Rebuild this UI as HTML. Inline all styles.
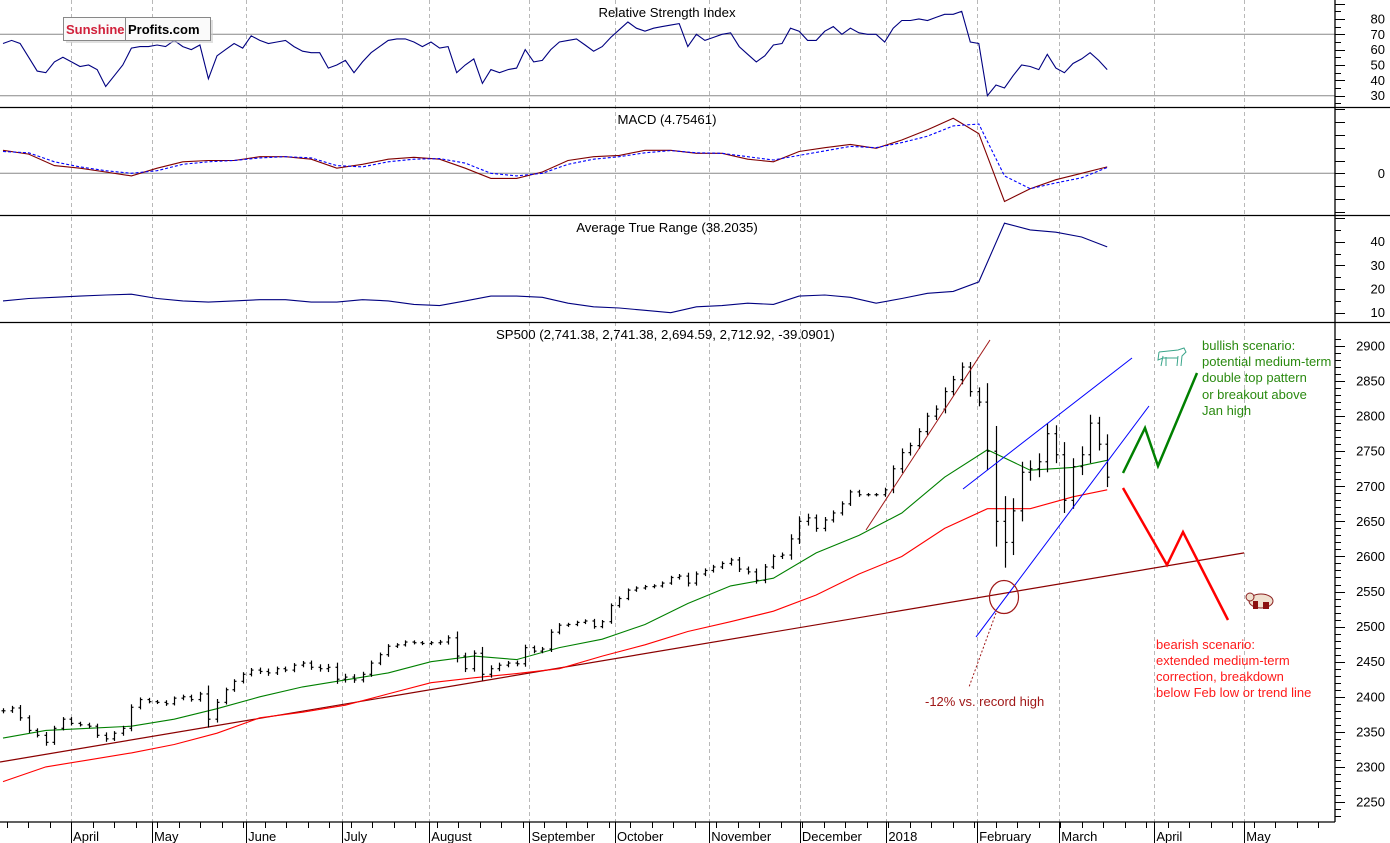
<!DOCTYPE html>
<html><head><meta charset="utf-8">
<style>
html,body{margin:0;padding:0;background:#fff;}
svg{display:block;font-family:"Liberation Sans",Arial,sans-serif;}
</style></head>
<body>
<svg id="chart" width="1390" height="843" viewBox="0 0 1390 843" xmlns="http://www.w3.org/2000/svg">
  <rect x="0" y="0" width="1390" height="843" fill="#fff"/>
  <g id="grid"></g>
  <g id="panels">
    <line x1="0" y1="34.3" x2="1335" y2="34.3" stroke="#888" stroke-width="1"/>
    <line x1="0" y1="95.7" x2="1335" y2="95.7" stroke="#888" stroke-width="1"/>
    <line x1="0" y1="173.3" x2="1335" y2="173.3" stroke="#888" stroke-width="1"/>
    <line x1="0" y1="107.5" x2="1390" y2="107.5" stroke="#000" stroke-width="1.3"/>
    <line x1="0" y1="215.5" x2="1390" y2="215.5" stroke="#000" stroke-width="1.3"/>
    <line x1="0" y1="322.5" x2="1390" y2="322.5" stroke="#000" stroke-width="1.3"/>
    <line x1="0" y1="822" x2="1335" y2="822" stroke="#000" stroke-width="1.3"/>
    <line x1="1335" y1="0" x2="1335" y2="822" stroke="#000" stroke-width="1.3"/>
  </g>
  <text x="667" y="17" font-size="13.2" text-anchor="middle">Relative Strength Index</text>
  <text x="667" y="124" font-size="13.2" text-anchor="middle">MACD (4.75461)</text>
  <text x="667" y="232" font-size="13.2" text-anchor="middle">Average True Range (38.2035)</text>
  <text x="496" y="339" font-size="13.2">SP500 (2,741.38, 2,741.38, 2,694.59, 2,712.92, -39.0901)</text>

  <g id="rsi"></g>
  <g id="macd"></g>
  <g id="atr"></g>
  <g id="price"></g>
  <g id="axes"></g>

  <g>
    <line x1="866" y1="530" x2="990" y2="340" stroke="#a01818" stroke-width="1"/>
    <line x1="963" y1="489" x2="1132" y2="358" stroke="#0000ff" stroke-width="1"/>
    <line x1="976" y1="637" x2="1149" y2="406" stroke="#0000ff" stroke-width="1"/>
    <ellipse cx="1004" cy="597" rx="14.5" ry="16.5" fill="none" stroke="#a01818" stroke-width="1.2"/>
    <line x1="996" y1="613" x2="969" y2="687" stroke="#a01818" stroke-width="1" stroke-dasharray="2,2"/>
    <text x="925" y="706" font-size="13" fill="#a01818">-12% vs. record high</text>
    <polyline points="1123,473 1145,428 1158,466 1197,373" fill="none" stroke="#008000" stroke-width="2.5"/>
    <polyline points="1123,488 1167,565 1183,532 1228,620" fill="none" stroke="#ff0000" stroke-width="2.5"/>
    <g font-size="13" fill="#2a8a10">
      <text x="1202" y="350">bullish scenario:</text>
      <text x="1202" y="366">potential medium-term</text>
      <text x="1202" y="382">double top pattern</text>
      <text x="1202" y="399">or breakout above</text>
      <text x="1202" y="415">Jan high</text>
    </g>
    <g font-size="13" fill="#ff1a1a">
      <text x="1156" y="649">bearish scenario:</text>
      <text x="1156" y="665">extended medium-term</text>
      <text x="1156" y="681">correction, breakdown</text>
      <text x="1156" y="697">below Feb low or trend line</text>
    </g>
    <g fill="none" stroke="#3aa58a" stroke-width="1">
      <path d="M1159,352 L1178,350 L1184,348 L1186,352 L1182,356 L1181,366 M1178,356 L1177,366 M1163,356 L1161,366 M1166,357 L1166,366 M1159,352 L1158,360 L1163,358 L1178,358"/>
    </g>
    <g>
      <ellipse cx="1261" cy="601" rx="12" ry="7" fill="#f0e0d0" stroke="#8b2020"/>
      <circle cx="1250" cy="597" r="4" fill="#f0e0d0" stroke="#8b2020"/>
      <rect x="1253" y="601" width="5" height="8" fill="#8b1010"/>
      <rect x="1263" y="602" width="6" height="7" fill="#8b1010"/>
    </g>
  </g>

  <g>
    <rect x="66" y="20" width="147" height="23" fill="#ccc" opacity="0.6"/>
    <rect x="63.5" y="17.5" width="147" height="23" fill="#fafafa" stroke="#888"/>
    <line x1="125.5" y1="18" x2="125.5" y2="40" stroke="#888"/>
    <text x="66" y="34" font-size="13" font-weight="bold" fill="#d0203a">Sunshine</text>
    <text x="128" y="34" font-size="13" font-weight="bold" fill="#000">Profits.com</text>
  </g>
</svg>
<script>
// ---- data ----
const priceCloses = [2380,2384,2370,2352,2345,2335,2355,2368,2362,2360,2358,2345,2340,2348,2355,2385,2396,2393,2392,2390,2398,2400,2396,2404,2368,2392,2410,2422,2432,2438,2436,2434,2440,2438,2445,2448,2442,2440,2442,2425,2428,2424,2432,2448,2460,2472,2474,2478,2477,2476,2477,2478,2484,2458,2440,2462,2432,2440,2445,2448,2447,2470,2465,2468,2492,2502,2503,2506,2508,2500,2507,2530,2540,2552,2555,2557,2558,2562,2570,2572,2562,2575,2580,2585,2590,2595,2582,2578,2566,2585,2600,2602,2625,2650,2655,2640,2652,2662,2675,2692,2688,2688,2688,2695,2725,2748,2758,2778,2800,2810,2835,2852,2870,2835,2820,2750,2650,2620,2665,2720,2725,2735,2775,2745,2680,2728,2745,2790,2760,2713];
const priceRanges = [12,10,14,12,10,16,12,10,10,8,10,12,14,10,12,14,10,8,8,10,8,10,10,10,40,16,10,10,10,10,12,14,10,10,10,10,12,14,16,22,16,14,12,12,10,10,8,8,8,8,8,10,12,30,16,14,30,16,12,10,12,14,10,10,14,10,8,8,8,10,8,10,10,8,8,8,8,8,8,10,16,12,10,10,10,10,14,12,16,14,10,12,22,24,20,16,14,12,12,10,10,8,8,10,16,20,14,16,16,18,20,18,22,24,20,90,120,120,60,50,40,40,50,40,60,40,40,40,30,47];
const maIdx = [0,5,10,15,20,25,30,35,40,45,50,55,60,65,70,75,80,85,90,95,100,105,110,115,120,125,129];
const ma50 = [2341,2352,2355,2358,2368,2383,2400,2414,2424,2434,2450,2458,2453,2470,2482,2503,2533,2558,2569,2605,2630,2662,2713,2752,2723,2727,2737];
const ma100 = [2279,2300,2310,2320,2332,2348,2370,2378,2388,2404,2420,2427,2433,2440,2458,2474,2493,2507,2522,2545,2575,2600,2640,2668,2668,2685,2695];
const trendIdx = [-0.35,145];
const trendVals = [2307,2605];
const rsiVals = [64,66,64,55,46,45,52,55,52,49,50,47,36,43,50,61,62,62,63,62,66,62,60,63,41,56,60,64,61,69,66,64,65,66,62,59,58,58,48,50,53,45,52,58,62,66,67,67,65,62,65,61,62,45,50,54,38,47,45,47,48,60,52,53,60,65,66,67,63,59,62,68,73,78,74,72,74,75,76,77,62,70,66,68,70,71,62,57,52,56,63,64,74,72,66,66,72,75,70,74,71,70,70,65,74,79,79,80,79,81,83,83,85,65,64,30,37,35,43,50,49,47,57,48,45,51,54,58,53,47];
const macdIdx = [0,3,6,9,12,15,18,21,24,27,30,33,36,39,42,45,48,51,54,57,60,63,66,69,72,75,78,81,84,87,90,93,96,99,102,105,108,111,114,117,120,123,126,129];
const macdVals = [18,15,6,4,1,-2,4,9,10,10,13,13,11,4,7,11,12.5,11,4,-4,-4,1,10,13,14,18,18,15.6,15.6,11,9,17,20,22.6,19.5,26,34,43,31,-22,-12,-5,0,5];
const signalVals = [17,16,9,5,2,0,2,7,9,10,12,13,12,6,5,9,11,11.5,8,0,-2,0,7,11,13,16,17.7,16,15.6,13,10.4,14,17.5,21,20,24,29,37,38.5,-2,-12,-7.5,-3.5,4.5];
const atrVals = [15,16,16.5,17,17.5,17.8,16,15,14.5,15,15.5,15.5,14.5,14.5,15.5,15,13.5,13,15,17,17,16.5,14,12.5,12,11,10,12.5,13,14,13.5,17,17.5,16.5,14,16,18.2,19,23,47.8,45,44,42,37.8];
const monthLabels = ["March","April","May","June","July","August","September","October","November","December","2018","February","March","April","May"];
const monthIdxPos = [-8.3,7.95,17.4,28.4,39.6,49.8,61.5,71.5,82.5,93.1,103.2,113.8,123.4,134.5,145];
const priceTicks = [2900,2850,2800,2750,2700,2650,2600,2550,2500,2450,2400,2350,2300,2250];
const rsiTicks = [80,70,60,50,40,30];
const atrTicks = [40,30,20,10];
const macdTicks = [0];

// ---- scales ----
const xS = i => 3 + i*8.56;
const yP = v => 346 + (2900 - v)*0.7015;
const yR = v => 34.3 + (70 - v)*1.535;
const yM = v => 173.3 - v*1.28;
const yA = v => 241.7 + (40 - v)*2.367;
const NS = "http://www.w3.org/2000/svg";
function mk(tag, attrs, parent){ const e=document.createElementNS(NS,tag); for(const k in attrs) e.setAttribute(k,attrs[k]); parent.appendChild(e); return e; }
function poly(xs, ys, parent, stroke, w, dash){ const pts = xs.map((x,k)=>x.toFixed(1)+","+ys[k].toFixed(1)).join(" "); const p=mk("polyline",{points:pts,fill:"none",stroke:stroke,"stroke-width":w},parent); if(dash) p.setAttribute("stroke-dasharray",dash); return p; }

// grid
const grid = document.getElementById("grid");
monthIdxPos.forEach((m,k)=>{ if(k===0) return; const x = Math.round(xS(m))+0.5;
  const l = mk("line",{x1:x,y1:0,x2:x,y2:822,stroke:"#b8b8b8","stroke-width":1,"stroke-dasharray":"4,3"},grid);
  
  
});

// RSI
const rsiG = document.getElementById("rsi");
const rl = poly(rsiVals.map((v,i)=>xS(i)), rsiVals.map(yR), rsiG, "#000080", 1.1);



// MACD
const macdG = document.getElementById("macd");
const ml = poly(macdIdx.map(xS), macdVals.map(yM), macdG, "#800000", 1.1);


const sl = poly(macdIdx.map(xS), signalVals.map(yM), macdG, "#0000ff", 1.1, "3,2");



// ATR
const atrG = document.getElementById("atr");
const al = poly(macdIdx.map(xS), atrVals.map(yA), atrG, "#000080", 1.1);



// Price
const pG = document.getElementById("price");
const tl = poly(trendIdx.map(xS), trendVals.map(yP), pG, "#8b0000", 1.2);


const r100 = poly(maIdx.map(xS), ma100.map(yP), pG, "#ff0000", 1.1);


const g50 = poly(maIdx.map(xS), ma50.map(yP), pG, "#008000", 1.1);


priceCloses.forEach((c,i)=>{
  const o = i>0 ? priceCloses[i-1] : c;
  const r = priceRanges[i];
  const hi = Math.max(c,o) + r*0.3, lo = Math.min(c,o) - r*0.3;
  const x = Math.round(xS(i))+0.5;
  const g = mk("g",{stroke:"#000","stroke-width":1.2},pG);
  
  
  mk("line",{x1:x,y1:yP(hi),x2:x,y2:yP(lo)},g);
  mk("line",{x1:x-2,y1:yP(o),x2:x,y2:yP(o)},g);
  mk("line",{x1:x,y1:yP(c),x2:x+2,y2:yP(c)},g);
});

// Axes
const ax = document.getElementById("axes");
function rlabel(txt,y){ const t=mk("text",{x:1385,y:y+4.5,"font-size":"13","text-anchor":"end"},ax); t.textContent=txt;
  
   }
priceTicks.forEach(v=>rlabel(String(v), yP(v)));
for(let v=2910; v>=2220; v-=10){ const y=Math.round(yP(v))+0.5; if(y>323&&y<822) mk("line",{x1:1335,y1:y,x2:v%50===0?1345:1341,y2:y,stroke:"#000"},ax); }
rsiTicks.forEach(v=>rlabel(String(v), yR(v)));
for(let v=90; v>=20; v-=5){ const y=Math.round(yR(v))+0.5; if(y>1&&y<107) mk("line",{x1:1335,y1:y,x2:v%10===0?1345:1341,y2:y,stroke:"#000"},ax); }
macdTicks.forEach(v=>rlabel(String(v), yM(v)));
for(let v=-30; v<=50; v+=10){ const y=Math.round(yM(v))+0.5; if(y>108&&y<215) mk("line",{x1:1335,y1:y,x2:1345,y2:y,stroke:"#000"},ax); }
atrTicks.forEach(v=>rlabel(String(v), yA(v)));
for(let v=50; v>=5; v-=5){ const y=Math.round(yA(v))+0.5; if(y>216&&y<322) mk("line",{x1:1335,y1:y,x2:v%10===0?1345:1341,y2:y,stroke:"#000"},ax); }
monthLabels.forEach((m,k)=>{ const x = xS(monthIdxPos[k]);
  const t = mk("text",{x:x+2,y:841,"font-size":"13"},ax); t.textContent = m;
  
  
  mk("line",{x1:Math.round(x)+0.5,y1:822,x2:Math.round(x)+0.5,y2:843,stroke:"#000"},ax);
});
for(let x=71-21.5*4; x<1335; x+=21.5){ const xx=Math.round(x)+0.5; if(xx>0) mk("line",{x1:xx,y1:822,x2:xx,y2:828,stroke:"#000"},ax); }
</script>
</body></html>
